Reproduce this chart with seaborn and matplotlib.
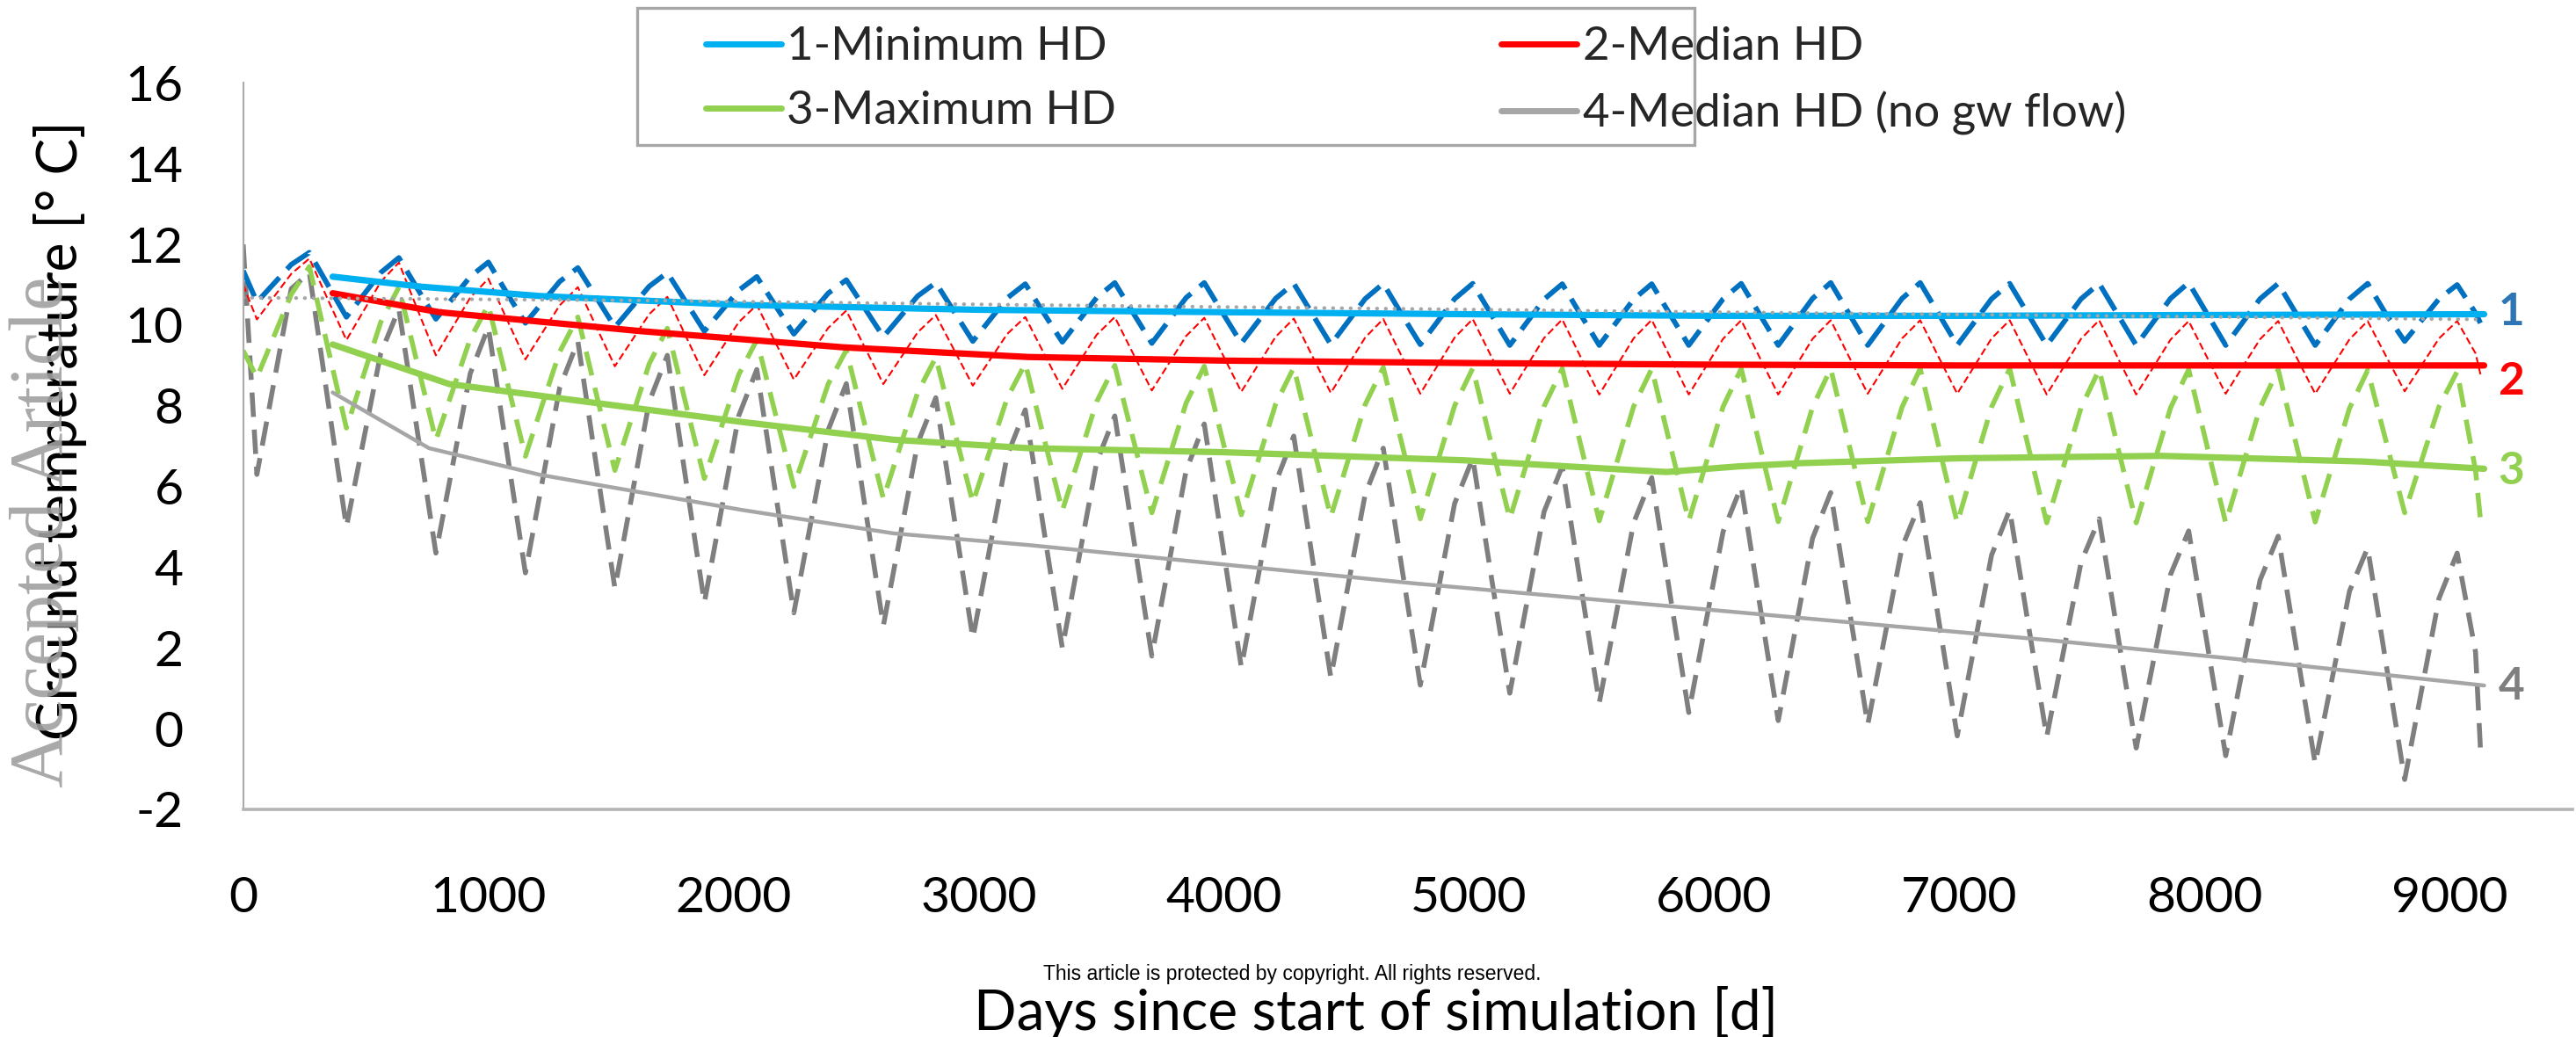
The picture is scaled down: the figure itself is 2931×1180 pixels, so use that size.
import numpy as np
import pandas as pd
import matplotlib
matplotlib.use("Agg")
import matplotlib.pyplot as plt
import seaborn as sns
from matplotlib.lines import Line2D
from matplotlib.patches import Rectangle

# ---------------- data ----------------
# days of the yearly minima of the dashed (daily) series
trough_days = [56, 421, 786, 1151, 1516, 1881, 2246, 2611, 2976, 3341, 3706, 4071, 4436,
               4801, 5166, 5531, 5896, 6261, 6626, 6991, 7356, 7721, 8086, 8451, 8816]
RISE_OFFSET = 140   # rising flank, days after the minimum
PEAK_OFFSET = 214   # yearly maximum, days after the minimum
FALL_OFFSET = 289   # falling flank, days after the minimum
start_day, end_day = 0, 9125

# 1 - Minimum HD (dashed, daily)
s1_start, s1_end = 11.35, 10.05
s1_trough = [10.57, 10.2, 10.15, 10.05, 9.95, 9.85, 9.78, 9.71, 9.6, 9.58, 9.55, 9.55, 9.52,
             9.52, 9.5, 9.5, 9.5, 9.5, 9.5, 9.5, 9.5, 9.5, 9.5, 9.5, 9.6]
s1_rise = [11.5, 11.3, 11.2, 11.08, 10.96, 10.86, 10.79, 10.72, 10.67, 10.68, 10.68, 10.66, 10.65,
           10.65, 10.64, 10.64, 10.65, 10.66, 10.66, 10.65, 10.65, 10.66, 10.65, 10.65, 10.65]
s1_peak = [11.8, 11.67, 11.56, 11.42, 11.3, 11.2, 11.12, 11.05, 11.02, 11.05, 11.05, 11.03, 11.03,
           11.03, 11.02, 11.02, 11.03, 11.05, 11.05, 11.03, 11.03, 11.05, 11.03, 11.03, 11.0]
s1_fall = [11.0, 10.91, 10.8, 10.69, 10.58, 10.49, 10.42, 10.33, 10.3, 10.3, 10.3, 10.28, 10.27,
           10.27, 10.26, 10.26, 10.27, 10.28, 10.28, 10.27, 10.27, 10.28, 10.27, 10.27, 10.3]

# 2 - Median HD (dashed, daily)
s2_start, s2_end = 11.0, 8.78
s2_trough = [10.14, 9.63, 9.25, 9.15, 8.98, 8.76, 8.65, 8.54, 8.5, 8.42, 8.38, 8.35, 8.32,
             8.3, 8.3, 8.28, 8.28, 8.28, 8.3, 8.3, 8.28, 8.28, 8.3, 8.3, 8.36]
s2_rise = [11.27, 11.07, 10.68, 10.49, 10.27, 10.07, 9.93, 9.82, 9.78, 9.76, 9.73, 9.71, 9.69,
           9.69, 9.68, 9.67, 9.66, 9.66, 9.67, 9.67, 9.66, 9.64, 9.65, 9.65, 9.67]
s2_peak = [11.65, 11.55, 11.15, 10.94, 10.7, 10.5, 10.36, 10.25, 10.2, 10.2, 10.18, 10.16, 10.15,
           10.15, 10.14, 10.13, 10.12, 10.12, 10.12, 10.12, 10.12, 10.1, 10.1, 10.1, 10.1]
s2_fall = [10.64, 10.4, 10.15, 9.96, 9.73, 9.58, 9.45, 9.38, 9.31, 9.29, 9.27, 9.24, 9.23,
           9.23, 9.21, 9.21, 9.2, 9.21, 9.21, 9.2, 9.2, 9.2, 9.2, 9.23, 9.3]

# 3 - Maximum HD (dashed, daily)
s3_start, s3_end = 9.37, 5.18
s3_trough = [8.7, 7.45, 7.15, 6.75, 6.4, 6.2, 6.0, 5.7, 5.6, 5.4, 5.35, 5.3, 5.25,
             5.2, 5.2, 5.15, 5.15, 5.13, 5.13, 5.1, 5.1, 5.1, 5.1, 5.12, 5.35]
s3_rise = [10.76, 10.07, 9.66, 9.34, 9.04, 8.77, 8.54, 8.33, 8.19, 8.1, 8.07, 8.04, 8.03,
           8.0, 7.99, 7.98, 7.98, 7.97, 7.97, 7.97, 7.95, 7.95, 7.95, 7.94, 7.98]
s3_peak = [11.45, 10.94, 10.5, 10.2, 9.92, 9.63, 9.38, 9.2, 9.05, 9.0, 8.98, 8.95, 8.95,
           8.93, 8.92, 8.92, 8.92, 8.92, 8.92, 8.92, 8.9, 8.9, 8.9, 8.88, 8.85]
s3_fall = [9.45, 9.05, 8.63, 8.3, 8.06, 7.82, 7.54, 7.4, 7.23, 7.18, 7.14, 7.1, 7.08,
           7.07, 7.04, 7.04, 7.03, 7.03, 7.01, 7.01, 7.0, 7.0, 7.01, 7.12, 6.4]

# 4 - Median HD, no groundwater flow (dashed, daily)
s4_start, s4_end = 12.0, -0.5
s4_trough = [6.3, 5.0, 4.35, 3.86, 3.48, 3.12, 2.87, 2.55, 2.24, 2.0, 1.8, 1.52, 1.27,
             1.08, 0.88, 0.64, 0.4, 0.2, 0.1, -0.18, -0.2, -0.48, -0.67, -0.87, -1.26]
s4_rise = [10.9, 9.3, 8.8, 8.45, 8.1, 7.75, 7.4, 7.07, 6.77, 6.6, 6.4, 6.1, 5.8,
           5.58, 5.38, 5.1, 4.88, 4.72, 4.5, 4.3, 4.12, 3.82, 3.68, 3.41, 3.23]
s4_peak = [11.3, 10.4, 9.95, 9.6, 9.25, 8.9, 8.55, 8.2, 7.9, 7.75, 7.55, 7.25, 6.95,
           6.7, 6.5, 6.22, 6.0, 5.85, 5.6, 5.42, 5.2, 4.9, 4.77, 4.48, 4.35]
s4_fall = [8.15, 7.38, 6.9, 6.54, 6.19, 5.89, 5.55, 5.22, 4.95, 4.78, 4.54, 4.26, 4.02,
           3.79, 3.57, 3.31, 3.1, 2.98, 2.71, 2.61, 2.36, 2.12, 1.95, 1.61, 1.9]

# yearly-mean trend lines (solid)
t1_days = [365, 730, 1211, 2034, 3000, 4000, 5000, 6000, 7000, 8000, 9140]
t1_vals = [11.2, 10.95, 10.72, 10.5, 10.38, 10.32, 10.27, 10.23, 10.23, 10.25, 10.27]
t2_days = [365, 800, 1623, 2446, 3200, 4000, 5000, 6000, 7000, 8000, 9140]
t2_vals = [10.79, 10.32, 9.85, 9.45, 9.21, 9.12, 9.06, 9.02, 9.0, 9.0, 9.0]
t3_days = [365, 840, 1211, 2034, 2652, 3203, 4000, 4982, 5400, 5805, 6100, 6357, 7000, 7823, 8647, 9140]
t3_vals = [9.52, 8.54, 8.25, 7.6, 7.16, 6.95, 6.85, 6.65, 6.5, 6.36, 6.5, 6.58, 6.7, 6.76, 6.62, 6.44]
t4_days = [365, 758, 1211, 2034, 2652, 3203, 4776, 6177, 7370, 8300, 9140]
t4_vals = [8.33, 6.95, 6.29, 5.42, 4.84, 4.55, 3.6, 2.84, 2.19, 1.62, 1.07]
# undisturbed reference (dotted)
ref_days = [0, 1623, 3203, 4776, 6357, 9140]
ref_vals = [10.68, 10.61, 10.5, 10.4, 10.3, 10.14]

legend_labels = ["1-Minimum HD", "2-Median HD", "3-Maximum HD", "4-Median HD (no gw flow)"]
end_labels = ["1", "2", "3", "4"]
end_label_y = [10.32, 8.6, 6.38, 1.04]
x_ticks = [0, 1000, 2000, 3000, 4000, 5000, 6000, 7000, 8000, 9000]
y_ticks = [-2, 0, 2, 4, 6, 8, 10, 12, 14, 16]

# ---------------- build tables ----------------
def daily_frame(start, trough, rise, peak, fall, end):
    days, vals = [start_day], [start]
    for td, a, b, c, d in zip(trough_days, trough, rise, peak, fall):
        days += [td, td + RISE_OFFSET, td + PEAK_OFFSET, td + FALL_OFFSET]
        vals += [a, b, c, d]
    days.append(end_day)
    vals.append(end)
    return pd.DataFrame({"day": days, "temp": vals})

d1 = daily_frame(s1_start, s1_trough, s1_rise, s1_peak, s1_fall, s1_end)
d2 = daily_frame(s2_start, s2_trough, s2_rise, s2_peak, s2_fall, s2_end)
d3 = daily_frame(s3_start, s3_trough, s3_rise, s3_peak, s3_fall, s3_end)
d4 = daily_frame(s4_start, s4_trough, s4_rise, s4_peak, s4_fall, s4_end)

# ---------------- styling ----------------
sns.set_theme(style="white")
plt.rcParams["font.family"] = ["Lato", "DejaVu Sans"]

C_LBLUE = "#00B0F0"
C_DBLUE = "#0070C0"
C_RED = "#FF0000"
C_GREEN = "#92D050"
C_GRAY = "#A6A6A6"
C_DGRAY = "#7F7F7F"
AX_GRAY = "#ABABAB"

fig = plt.figure(figsize=(29.31, 11.80), dpi=100)
ax = fig.add_axes([0.0944, 0.2195, 0.9042, 0.7005])

# dashed daily series
sns.lineplot(data=d4, x="day", y="temp", ax=ax, color=C_DGRAY, linewidth=4.0,
             linestyle=(0, (5.0, 2.6)), zorder=2)
sns.lineplot(data=d3, x="day", y="temp", ax=ax, color=C_GREEN, linewidth=4.0,
             linestyle=(0, (5.0, 2.6)), zorder=2)
sns.lineplot(data=d2, x="day", y="temp", ax=ax, color=C_RED, linewidth=1.5,
             linestyle=(0, (4, 2)), zorder=2)
sns.lineplot(data=d1, x="day", y="temp", ax=ax, color=C_DBLUE, linewidth=4.2,
             linestyle=(0, (5.5, 2.2)), zorder=2)

# solid trend lines
sns.lineplot(x=t4_days, y=t4_vals, ax=ax, color=C_GRAY, linewidth=3.2, zorder=3)
sns.lineplot(x=t3_days, y=t3_vals, ax=ax, color=C_GREEN, linewidth=5.2, zorder=3)
sns.lineplot(x=t2_days, y=t2_vals, ax=ax, color=C_RED, linewidth=5.2, zorder=3)
sns.lineplot(x=t1_days, y=t1_vals, ax=ax, color=C_LBLUE, linewidth=5.2, zorder=3)
# dotted reference
sns.lineplot(x=ref_days, y=ref_vals, ax=ax, color=C_GRAY, linewidth=3.0,
             linestyle=(0, (0.1, 2.3)), dash_capstyle="round", zorder=4)

# axes
ax.set_xlim(0, 9500)
ax.set_ylim(-2, 16)
ax.set_xticks(x_ticks)
ax.set_yticks(y_ticks)
ax.set_xticklabels([str(v) for v in x_ticks])
ax.set_yticklabels([str(v) for v in y_ticks])
for s in ["top", "right"]:
    ax.spines[s].set_visible(False)
ax.spines["left"].set_color(AX_GRAY)
ax.spines["left"].set_linewidth(1.5)
ax.spines["bottom"].set_color("#B4B4B4")
ax.spines["bottom"].set_linewidth(2.6)
ax.tick_params(axis="x", direction="in", length=14.5, width=1.5, color=AX_GRAY,
               pad=55, labelsize=41, labelcolor="black")
ax.tick_params(axis="y", direction="out", length=16, width=1.5, color=AX_GRAY,
               pad=33, labelsize=41, labelcolor="black")
ax.set_facecolor("white")

ax.set_xlabel("Days since start of simulation [d]", fontsize=46, color="black")
ax.xaxis.set_label_coords(0.4862, -0.243)
ax.set_ylabel("Ground temperature [° C]", fontsize=45, color="black")
ax.yaxis.set_label_coords(-0.067, 0.5214)

# end labels
label_colors = ["#2E75B6", C_RED, C_GREEN, "#7F7F7F"]
for txt, yv, col in zip(end_labels, end_label_y, label_colors):
    ax.text(9198, yv, txt, color=col, fontsize=37, fontweight="bold",
            ha="left", va="center", clip_on=False)

# legend (frame drawn separately)
frame = Rectangle((725 / 2931, 1 - 165 / 1180), 1203 / 2931, 156 / 1180,
                  transform=fig.transFigure, facecolor="white", edgecolor=C_GRAY,
                  linewidth=2.4, zorder=3)
fig.add_artist(frame)
handles = [Line2D([], [], color=C_LBLUE, lw=5),
           Line2D([], [], color=C_GREEN, lw=5),
           Line2D([], [], color=C_RED, lw=5),
           Line2D([], [], color=C_GRAY, lw=5)]
labels = [legend_labels[0], legend_labels[2], legend_labels[1], legend_labels[3]]
leg = fig.legend(handles, labels, loc="upper left", bbox_to_anchor=(803 / 2931, 1 - 30 / 1180),
                 ncol=2, frameon=False, fontsize=38, handlelength=1.63, handletextpad=0.12,
                 columnspacing=8.3, labelspacing=0.5, borderpad=0, borderaxespad=0)
leg.set_zorder(5)

# watermark & copyright note
fig.text(50 / 2931, 1 - 605 / 1180, "Accepted Article", rotation=90, ha="center", va="center",
         family=["Liberation Serif", "DejaVu Serif"], fontsize=62, color="#A0A0A0", alpha=0.9,
         zorder=6)
fig.text(1470 / 2931, 1 - 1108 / 1180, "This article is protected by copyright. All rights reserved.",
         ha="center", va="center", family=["Liberation Sans", "DejaVu Sans"], fontsize=16.5,
         color="black")

fig.savefig("out.png", dpi=100, facecolor="white")
